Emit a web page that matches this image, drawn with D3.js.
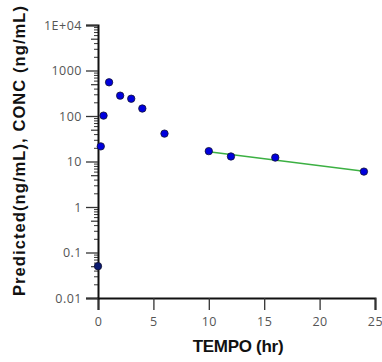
<!DOCTYPE html>
<html>
<head>
<meta charset="utf-8">
<script src="https://cdn.jsdelivr.net/npm/d3@7"></script>
<style>
  body { margin: 0; background: #fff; }
  svg { display: block; }
</style>
</head>
<body>
<div id="chart"></div>
<script>
const width = 382;
const height = 362;

// observed concentrations
const obsTime = [0, 0.25, 0.5, 1, 2, 3, 4, 6, 10, 12, 16, 24];
const obsConc = [0.05, 21.5, 102, 550, 280, 240, 146, 41, 16.9, 12.9, 12.2, 6.0];
// predicted terminal phase
const predTime = [10, 24];
const predConc = [16.4, 6.1];

const xTicks = [0, 5, 10, 15, 20, 25];
const yTicks = [0.01, 0.1, 1, 10, 100, 1000, 10000];
const yTickLabels = ["0.01", "0.1", "1", "10", "100", "1000", "1E+04"];

const margin = { left: 98, right: 7, top: 25, bottom: 64 };

const svg = d3.select("#chart").append("svg").attr("width", width).attr("height", height);

const x = d3.scaleLinear().domain([0, 25]).range([margin.left, width - margin.right]);
const y = d3.scaleLog().domain([0.01, 10000]).range([height - margin.bottom, margin.top]);

const fontTick = "'Open Sans', 'Liberation Sans', sans-serif";

// x axis
const xAxis = svg.append("g").attr("transform", `translate(0,${y(0.01)})`);
xAxis.call(d3.axisBottom(x).tickValues(d3.range(2.5, 25, 5)).tickSize(7).tickFormat(""));
xAxis.call(d3.axisBottom(x).tickValues(xTicks).tickSize(12).tickPadding(7).tickFormat(d3.format("d")));
xAxis.selectAll(".domain").attr("stroke", "#111").attr("stroke-width", 2);
xAxis.selectAll(".tick line").attr("stroke", "#333").attr("stroke-width", 1.3);
xAxis.selectAll("text").attr("fill", "#555").style("font-family", fontTick)
    .style("font-size", "12.5px").style("letter-spacing", "0.5px");

// y axis: minor log ticks then major
const minor = [];
for (let e = -2; e < 4; e++) {
    for (let m = 2; m <= 9; m++) minor.push(m * Math.pow(10, e));
}
const mant = d => Math.round(d / Math.pow(10, Math.floor(Math.log10(d) + 1e-9)));
const yAxis = svg.append("g").attr("transform", `translate(${x(0)},0)`);
yAxis.call(d3.axisLeft(y).tickValues(minor).tickSize(4).tickFormat(""));
yAxis.selectAll(".tick line").attr("stroke-width", d => mant(d) === 5 ? 1.2 : 1)
    .attr("x2", d => mant(d) === 5 ? -7 : -4);
const yMajor = svg.append("g").attr("transform", `translate(${x(0)},0)`);
yMajor.call(d3.axisLeft(y).tickValues(yTicks).tickSize(12).tickPadding(4)
    .tickFormat((d, i) => yTickLabels[i]));
yAxis.selectAll(".domain").remove();
yMajor.selectAll(".domain").attr("stroke", "#111").attr("stroke-width", 2);
svg.selectAll(".tick line").attr("stroke", "#333");
yMajor.selectAll(".tick line").attr("stroke-width", 1.3);
yMajor.selectAll("text").attr("fill", "#555").style("font-family", fontTick)
    .style("font-size", "12.5px").style("letter-spacing", "0.5px");

// predicted line
const line = d3.line().x((d, i) => x(predTime[i])).y(d => y(d));
svg.append("path")
    .datum(predConc)
    .attr("d", line)
    .attr("fill", "none")
    .attr("stroke", "#3cb043")
    .attr("stroke-width", 1.5);

// observed points
svg.append("g").selectAll("circle")
    .data(obsConc)
    .enter()
    .append("circle")
    .attr("cx", (d, i) => x(obsTime[i]))
    .attr("cy", d => y(d))
    .attr("r", 3.7)
    .attr("fill", (d, i) => i === 0 ? "#0a1a70" : "#0000dd")
    .attr("stroke", "#111133")
    .attr("stroke-width", 0.8);

// axis titles
svg.append("text")
    .attr("x", 238)
    .attr("y", 352)
    .attr("text-anchor", "middle")
    .style("font-family", "'Liberation Sans', Arial, sans-serif")
    .style("font-weight", "bold")
    .style("font-size", "17px")
    .style("letter-spacing", "-0.3px")
    .attr("fill", "#111")
    .text("TEMPO (hr)");

svg.append("text")
    .attr("transform", `translate(25,${(297 + 5) / 2}) rotate(-90)`)
    .attr("text-anchor", "middle")
    .attr("textLength", 290)
    .attr("lengthAdjust", "spacing")
    .style("font-family", "'Liberation Sans', Arial, sans-serif")
    .style("font-weight", "bold")
    .style("font-size", "16.5px")
    .attr("fill", "#111")
    .text("Predicted(ng/mL),  CONC (ng/mL)");
</script>
</body>
</html>
